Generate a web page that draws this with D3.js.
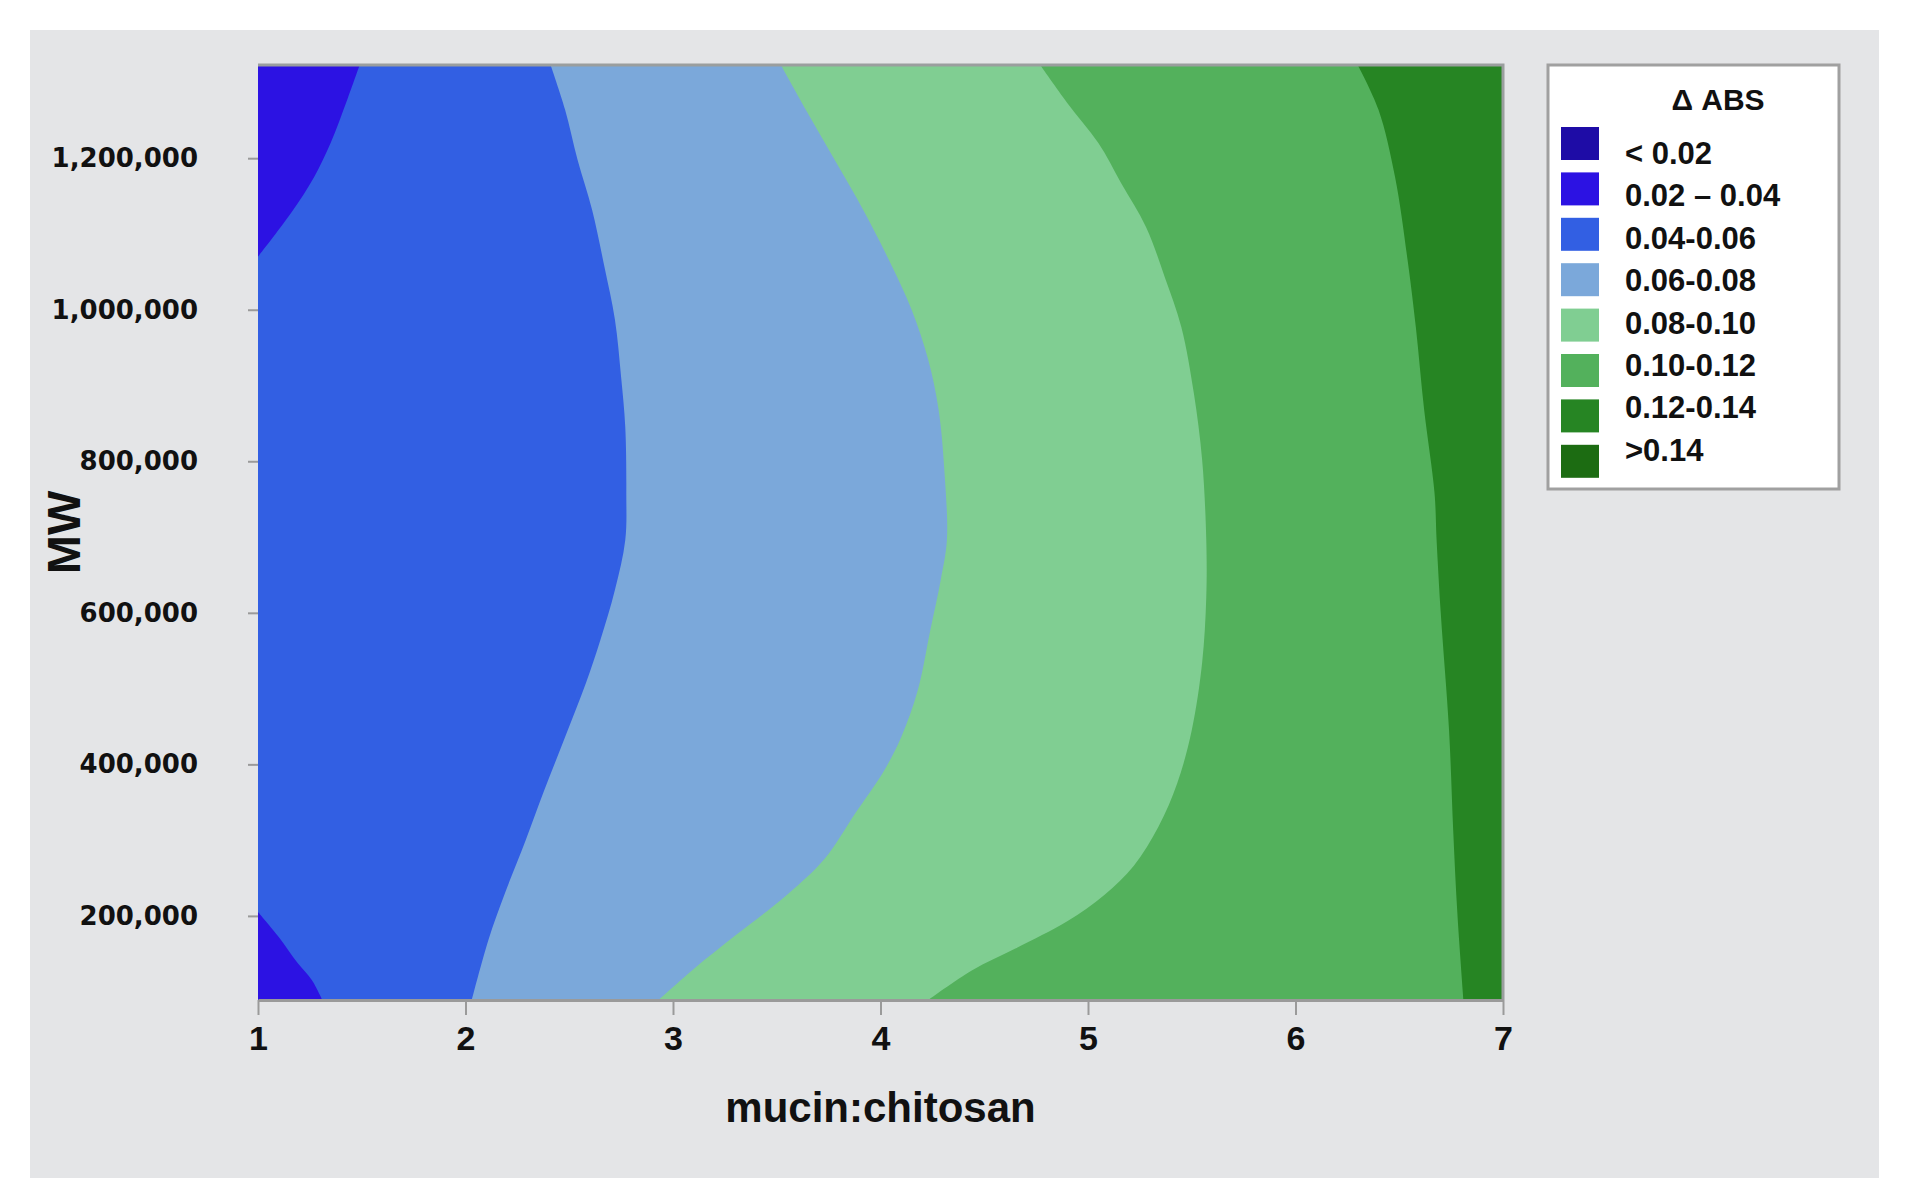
<!DOCTYPE html>
<html>
<head>
<meta charset="utf-8">
<script src="https://cdn.jsdelivr.net/npm/d3@7"></script>
<style>
  body { margin: 0; background: #fff; }
</style>
</head>
<body>
<div id="chart"></div>
<script>
var W = 1910, H = 1204,
    PLOT = {left: 258, right: 1503, top: 65, bottom: 1000}

var xTicks = [1, 2, 3, 4, 5, 6, 7]
var yTicks = [200000, 400000, 600000, 800000, 1000000, 1200000]
var xDomain = [1, 7]
var yDomain = [89000, 1323000]

var legendTitle = "\u0394 ABS"
var legendLabels = ["< 0.02", "0.02 \u2013 0.04", "0.04-0.06", "0.06-0.08",
                    "0.08-0.10", "0.10-0.12", "0.12-0.14", ">0.14"]
var legendColors = ["#1e0ca6", "#2c12e3", "#325fe3", "#7ba8da",
                    "#80ce92", "#53b15c", "#268523", "#1c6c12"]

// contour boundaries, [mucin:chitosan, MW], top to bottom
var line004Top = [[1.49, 1323000], [1.43, 1277000], [1.35, 1220000], [1.27, 1175000],
                  [1.16, 1128000], [1.00, 1070000]]
var line004Bottom = [[1.00, 205000], [1.10, 172000], [1.19, 138000], [1.26, 115000],
                     [1.31, 89000]]
var line006 = [[2.41, 1323000], [2.48, 1264000], [2.54, 1198000], [2.61, 1132000],
               [2.67, 1056000], [2.72, 987000], [2.75, 911000], [2.77, 845000],
               [2.775, 758000], [2.77, 696000], [2.72, 630000],
               [2.65, 564000], [2.58, 507000], [2.48, 436000], [2.38, 366000],
               [2.29, 300000], [2.19, 230000], [2.11, 168000], [2.03, 89000]]
var line008 = [[3.52, 1323000], [3.64, 1264000], [3.76, 1207000], [3.89, 1145000],
               [4.04, 1066000], [4.15, 1000000], [4.23, 934000], [4.28, 868000],
               [4.31, 779000], [4.32, 696000], [4.29, 643000], [4.24, 577000],
               [4.18, 498000], [4.10, 436000], [4.02, 393000], [3.88, 336000],
               [3.73, 275000], [3.55, 228000], [3.30, 174000],
               [3.10, 130000], [2.93, 89000]]
var line010 = [[4.77, 1323000], [4.90, 1273000], [5.05, 1220000], [5.16, 1167000],
               [5.28, 1109000], [5.37, 1043000], [5.45, 977000], [5.51, 890000],
               [5.55, 802000], [5.57, 696000], [5.57, 621000], [5.55, 534000],
               [5.50, 445000], [5.43, 375000], [5.34, 318000], [5.22, 266000],
               [5.08, 228000], [4.90, 193000], [4.65, 157000], [4.44, 128000],
               [4.23, 89000]]
var line012 = [[6.30, 1323000], [6.40, 1264000], [6.48, 1175000], [6.54, 1066000],
               [6.58, 977000], [6.62, 868000], [6.67, 758000], [6.68, 696000],
               [6.70, 600000], [6.74, 445000], [6.76, 313000], [6.78, 204000],
               [6.81, 89000]]

var x = d3.scaleLinear().domain(xDomain).range([PLOT.left, PLOT.right]),
    y = d3.scaleLinear().domain(yDomain).range([PLOT.bottom, PLOT.top])

var svg = d3.select("#chart").append("svg")
    .attr("width", W)
    .attr("height", H)
    .style("font-family", "'Liberation Sans', Arial, sans-serif")

svg.append("rect")
    .attr("x", 30).attr("y", 30)
    .attr("width", 1849).attr("height", 1148)
    .style("fill", "#e4e5e7")

svg.append("clipPath").attr("id", "plotclip")
    .append("rect")
    .attr("x", PLOT.left).attr("y", PLOT.top)
    .attr("width", PLOT.right - PLOT.left).attr("height", PLOT.bottom - PLOT.top)

var plot = svg.append("g").attr("clip-path", "url(#plotclip)")

var contour = d3.line()
    .x(d => x(d[0]))
    .y(d => y(d[1]))
    .curve(d3.curveCatmullRom)

function pt(d) { return "L" + x(d[0]) + "," + y(d[1]) }

// base band
plot.append("rect")
    .attr("x", PLOT.left).attr("y", PLOT.top)
    .attr("width", PLOT.right - PLOT.left).attr("height", PLOT.bottom - PLOT.top)
    .style("fill", legendColors[2])

// right of each boundary is the next band up
var rightBands = [[line006, legendColors[3]], [line008, legendColors[4]],
                  [line010, legendColors[5]], [line012, legendColors[6]]]
rightBands.forEach(function(b) {
    plot.append("path")
        .attr("d", contour(b[0]) + pt([xDomain[1], yDomain[0]]) + pt([xDomain[1], yDomain[1]]) + "Z")
        .style("fill", b[1])
})

// low corners
plot.append("path")
    .attr("d", contour(line004Top) + pt([xDomain[0], yDomain[1]]) + "Z")
    .style("fill", legendColors[1])
plot.append("path")
    .attr("d", contour(line004Bottom) + pt([xDomain[0], yDomain[0]]) + "Z")
    .style("fill", legendColors[1])

// frame
svg.append("path")
    .attr("d", "M" + PLOT.left + "," + PLOT.top + "H" + PLOT.right + "V" + PLOT.bottom)
    .style("fill", "none")
    .style("stroke", "#9a9e9e")
    .style("stroke-width", 3)

var xAxis = svg.append("g")
    .attr("transform", "translate(0," + PLOT.bottom + ")")
    .call(d3.axisBottom(x).tickValues(xTicks).tickFormat(d3.format("d"))
        .tickSize(15).tickSizeOuter(0).tickPadding(11))
xAxis.select(".domain").style("stroke", "#9a9a9a").style("stroke-width", 3)
xAxis.selectAll(".tick line").style("stroke", "#9a9a9a").style("stroke-width", 2)
xAxis.selectAll(".tick text")
    .style("font-size", "34px")
    .style("font-weight", "bold")
    .style("fill", "#111")

var yAxis = svg.append("g")
    .attr("transform", "translate(" + PLOT.left + ",0)")
    .call(d3.axisLeft(y).tickValues(yTicks).tickFormat(d3.format(",")).tickSize(10).tickPadding(50))
yAxis.select(".domain").remove()
yAxis.selectAll(".tick line").style("stroke", "#9a9a9a").style("stroke-width", 2)
yAxis.selectAll(".tick text")
    .style("font-family", "'DejaVu Sans', sans-serif")
    .style("font-size", "26px")
    .style("font-weight", "bold")
    .style("fill", "#111")

svg.append("text")
    .attr("x", (PLOT.left + PLOT.right) / 2)
    .attr("y", 1122)
    .attr("text-anchor", "middle")
    .style("font-size", "42px")
    .style("font-weight", "bold")
    .style("fill", "#111")
    .text("mucin:chitosan")

svg.append("text")
    .attr("transform", "translate(80," + (PLOT.top + PLOT.bottom) / 2 + ") rotate(-90)")
    .attr("text-anchor", "middle")
    .style("font-size", "47px")
    .style("font-weight", "bold")
    .style("fill", "#111")
    .text("MW")

// legend
var legend = svg.append("g")
legend.append("rect")
    .attr("x", 1548).attr("y", 65)
    .attr("width", 291).attr("height", 424)
    .style("fill", "#fff")
    .style("stroke", "#a0a0a0")
    .style("stroke-width", 3)
legend.append("text")
    .attr("x", 1718).attr("y", 110)
    .attr("text-anchor", "middle")
    .style("font-size", "30px")
    .style("font-weight", "bold")
    .style("fill", "#111")
    .text(legendTitle)
legend.selectAll("rect.sw").data(legendColors).join("rect")
    .attr("class", "sw")
    .attr("x", 1561)
    .attr("y", (d, i) => 127 + i * 45.4)
    .attr("width", 38).attr("height", 33)
    .style("fill", d => d)
legend.selectAll("text.lb").data(legendLabels).join("text")
    .attr("class", "lb")
    .attr("x", 1625)
    .attr("y", (d, i) => 164 + i * 42.4)
    .style("font-size", "31px")
    .style("font-weight", "bold")
    .style("fill", "#111")
    .text(d => d)
</script>
</body>
</html>
